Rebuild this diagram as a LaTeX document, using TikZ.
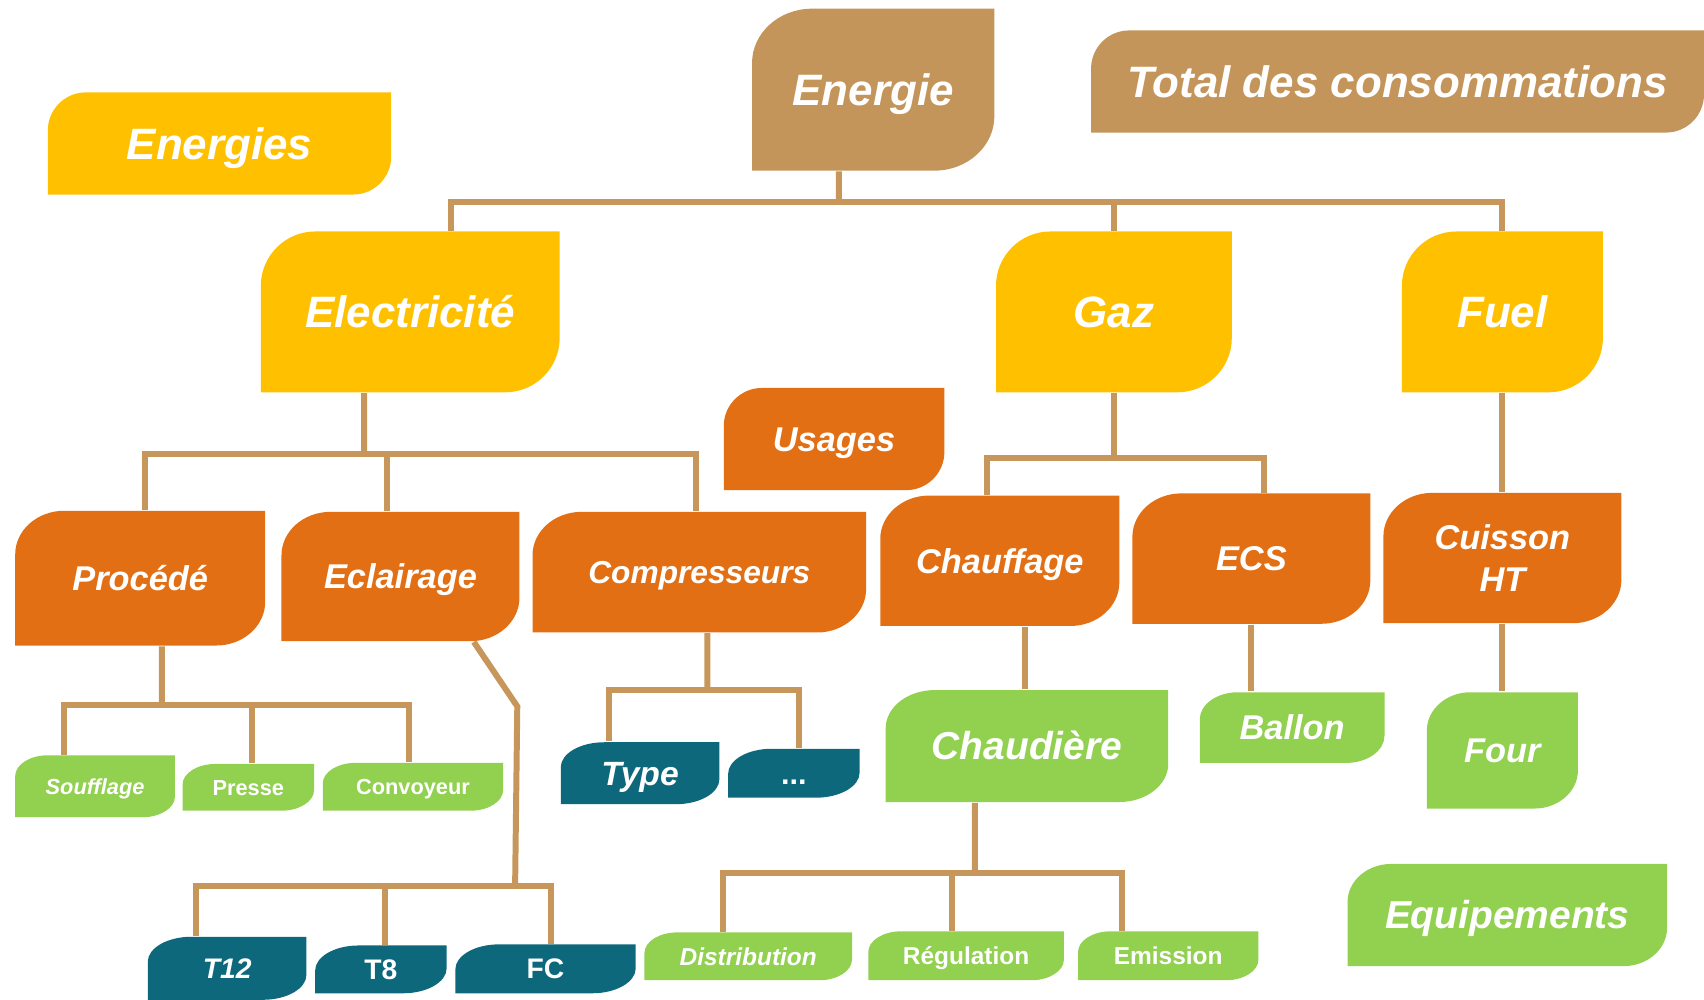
\documentclass[tikz,border=0pt]{standalone}
\usepackage{fontspec}
\setmainfont{Liberation Sans}
\usetikzlibrary{calc,positioning}
\definecolor{tanc}{RGB}{196,149,90}
\definecolor{yellowc}{RGB}{255,192,0}
\definecolor{orangec}{RGB}{226,111,20}
\definecolor{greenc}{RGB}{146,208,80}
\definecolor{tealc}{RGB}{14,104,124}
\definecolor{linec}{RGB}{198,150,90}
\newcommand{\fbig}{\fontsize{11.5}{13}\selectfont\bfseries\itshape}
\newcommand{\fmid}{\fontsize{9}{11}\selectfont\bfseries\itshape}
\newcommand{\fgreen}{\fontsize{10.2}{12}\selectfont\bfseries\itshape}
\newcommand{\fsmall}{\fontsize{5.7}{7}\selectfont\bfseries}
\newcommand{\fdist}{\fontsize{6.4}{8}\selectfont\bfseries}
\newcommand{\fteal}{\fontsize{7.4}{9}\selectfont\bfseries}

\begin{document}
\begin{tikzpicture}[x=0.1mm, y=-0.1mm,
    leaf/.style n args={3}{inner sep=0pt, text=white, text depth=0pt, path picture={
        \fill[#1] let \p1=(path picture bounding box.south west), \p2=(path picture bounding box.north east) in
          (\x1,\y1) -- (\x1,\y2-#3) .. controls (\x1,\y2-0.45*#3) and (\x1+0.45*#2,\y2) .. (\x1+#2,\y2)
          -- (\x2,\y2) -- (\x2,\y1+#3) .. controls (\x2,\y1+0.45*#3) and (\x2-0.45*#2,\y1) .. (\x2-#2,\y1) -- cycle;}},
    boxsize/.style 2 args={minimum width=#1, minimum height=#2},
    topbox/.style={leaf={tanc}{5.5mm}{5mm}, font=\fbig, text height=8.3pt},
    energybox/.style={leaf={yellowc}{5mm}{5mm}, font=\fbig, text height=8.3pt},
    usebox/.style={leaf={orangec}{4.5mm}{4mm}, font=\fmid, text height=6.5pt},
    greenbox/.style={leaf={greenc}{3mm}{1.9mm}, font=\fsmall, text height=4.1pt},
    tealbox/.style={leaf={tealc}{4mm}{2.3mm}, font=\fteal, text height=5.3pt},
    link/.style={draw=linec, line width=0.55mm}
]
    \useasboundingbox (0,0) rectangle (1568,920);

    % Nodes
    \node[energybox, leaf={yellowc}{3.5mm}{3.5mm}, boxsize={31.6mm}{9.4mm}] (energies) at (202,132) {Energies};
    \node[topbox, boxsize={22.3mm}{14.9mm}] (energie) at (803.5,82.5) {Energie};
    \node[topbox, leaf={tanc}{3.5mm}{3.5mm}, boxsize={56.4mm}{9.4mm}] (total) at (1286,75) {Total des consommations};

    \node[energybox, boxsize={27.5mm}{14.8mm}] (elec) at (377.5,287) {Electricité};
    \node[energybox, boxsize={21.7mm}{14.8mm}] (gaz) at (1025,287) {Gaz};
    \node[energybox, boxsize={18.5mm}{14.8mm}] (fuel) at (1382.5,287) {Fuel};

    \node[usebox, leaf={orangec}{3.5mm}{3.5mm}, boxsize={20.3mm}{9.4mm}] (usages) at (767.5,404) {Usages};

    \node[usebox, boxsize={23mm}{12.4mm}] (procede) at (129,532) {Procédé};
    \node[usebox, boxsize={21.9mm}{11.9mm}] (eclairage) at (368.5,530.5) {Eclairage};
    \node[usebox, boxsize={30.7mm}{11.1mm}, font=\fontsize{8.3}{10}\selectfont\bfseries\itshape, text height=6pt] (compresseurs) at (643.5,526.5) {Compresseurs};
    \node[usebox, boxsize={22mm}{12mm}] (chauffage) at (920,516) {Chauffage};
    \node[usebox, boxsize={21.9mm}{12mm}] (ecs) at (1151.5,514) {ECS};
    \node[usebox, boxsize={21.9mm}{12mm}, text height={}, text depth={}, align=center] (cuisson) at (1382.5,513.5) {Cuisson\\HT};

    \node[greenbox, boxsize={14.7mm}{5.7mm}, font=\fsmall\itshape] (soufflage) at (87.5,723.5) {Soufflage};
    \node[greenbox, boxsize={12.1mm}{4.3mm}] (presse) at (228.5,724.5) {Presse};
    \node[greenbox, boxsize={16.6mm}{4.4mm}] (convoyeur) at (380,724) {Convoyeur};

    \node[tealbox, boxsize={14.6mm}{5.8mm}, font=\fteal\itshape] (t12) at (209,891) {T12};
    \node[tealbox, boxsize={12.1mm}{4.4mm}] (t8) at (350.5,892) {T8};
    \node[tealbox, boxsize={16.6mm}{4.5mm}] (fc) at (502,891.5) {FC};

    \node[tealbox, boxsize={14.6mm}{5.7mm}, font=\fontsize{8.8}{10}\selectfont\bfseries\itshape, text height=6.3pt] (type) at (589,711.5) {Type};
    \node[tealbox, boxsize={12.1mm}{4.5mm}, font=\fontsize{8}{10}\selectfont\bfseries, text height=5.8pt] (dots) at (730.5,711.5) {...};

    \node[greenbox, leaf={greenc}{4.5mm}{3.5mm}, boxsize={26mm}{10.3mm}, font=\fgreen, text height=7.3pt] (chaudiere) at (945,686.5) {Chaudière};
    \node[greenbox, boxsize={19.1mm}{4.4mm}, font=\fdist\itshape, text height=4.6pt] (distribution) at (688.5,880) {Distribution};
    \node[greenbox, boxsize={18mm}{4.5mm}, font=\fdist, text height=4.6pt] (regulation) at (889,879.5) {Régulation};
    \node[greenbox, boxsize={16.6mm}{4.5mm}, font=\fdist, text height=4.6pt] (emission) at (1075,879.5) {Emission};

    \node[greenbox, leaf={greenc}{3.5mm}{2.5mm}, boxsize={17mm}{6.5mm}, font=\fmid, text height=6.5pt] (ballon) at (1189,669.5) {Ballon};
    \node[greenbox, leaf={greenc}{4mm}{3.5mm}, boxsize={13.9mm}{10.7mm}, font=\fmid, text height=6.5pt] (four) at (1382.5,690.5) {Four};
    \node[greenbox, leaf={greenc}{4mm}{3.5mm}, boxsize={29.4mm}{9.4mm}, font=\fgreen, text height=7.3pt] (equipements) at (1387,842) {Equipements};

    % Links
    \coordinate (eb) at (772,186);
    \draw[link] ([xshift=-3.15mm]energie.south) -- (eb);
    \draw[link] ([xshift=3.75mm]elec.north) |- (eb) -| (fuel.north);
    \draw[link] (gaz.north) -- (gaz.north |- eb);

    \coordinate (cb) at (335,418);
    \draw[link] ([xshift=-4.25mm]elec.south) -- (cb);
    \draw[link] ([xshift=0.4mm]procede.north) |- (cb) -| ([xshift=-0.35mm]compresseurs.north);
    \draw[link] ([xshift=-1.25mm]eclairage.north) -- ([xshift=-1.25mm]eclairage.north |- cb);

    \coordinate (gb) at (1025,421);
    \draw[link] (gaz.south) -- (gb);
    \draw[link] ([xshift=-1.2mm]chauffage.north) |- (gb) -| ([xshift=1.15mm]ecs.north);

    \draw[link] (fuel.south) -- (cuisson.north);

    \coordinate (pb) at (149,649);
    \draw[link] ([xshift=2mm]procede.south) -- (pb);
    \draw[link] ([xshift=-2.85mm]soufflage.north) |- (pb) -| ([xshift=-0.4mm]convoyeur.north);
    \draw[link] ([xshift=0.35mm]presse.north) -- ([xshift=0.35mm]presse.north |- pb);

    \coordinate (lk) at (476,650);
    \coordinate (lb) at (474,815);
    \draw[link] ([xshift=6.75mm]eclairage.south) -- (lk) -- (lb);
    \draw[link] ([xshift=-2.9mm]t12.north) |- (lb) -| ([xshift=0.5mm]fc.north);
    \draw[link] ([xshift=0.35mm]t8.north) -- ([xshift=0.35mm]t8.north |- lb);

    \coordinate (kb) at (651,635);
    \draw[link] ([xshift=0.75mm]compresseurs.south) -- (kb);
    \draw[link] ([xshift=-2.9mm]type.north) |- (kb) -| ([xshift=0.45mm]dots.north);

    \draw[link] ([xshift=2.3mm]chauffage.south) -- ([xshift=2.3mm]chauffage.south |- chaudiere.north);

    \coordinate (db) at (897,803);
    \draw[link] ([xshift=-4.8mm]chaudiere.south) -- (db);
    \draw[link] ([xshift=-2.35mm]distribution.north) |- (db) -| ([xshift=-4.3mm]emission.north);
    \draw[link] ([xshift=-1.3mm]regulation.north) -- ([xshift=-1.3mm]regulation.north |- db);

    \draw[link] (ecs.south) -- (ecs.south |- ballon.north);
    \draw[link] (cuisson.south) -- (four.north);
\end{tikzpicture}
\end{document}
